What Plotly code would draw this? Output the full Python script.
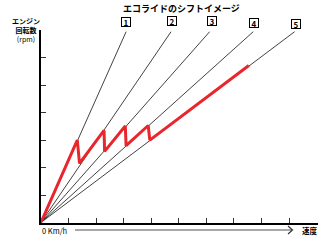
import plotly.graph_objects as go

# ---- data (speed units = x tick steps, rpm units = y tick steps) ----
gear_labels = ["1", "2", "3", "4", "5"]
gear_end_speed = [3.09, 4.72, 6.12, 7.70, 9.20]
gear_end_rpm = [6.94, 6.94, 6.94, 6.94, 6.94]

shift_speed = [0, 1.32, 1.40, 2.29, 2.31, 3.06, 3.09, 3.89, 3.95, 7.54]
shift_rpm = [0, 3.00, 2.15, 3.35, 2.59, 3.51, 2.80, 3.53, 3.00, 5.71]

x_ticks = [1, 2, 3, 4, 5, 6, 7, 8, 9, 10]
y_ticks = [1, 2, 3, 4, 5, 6, 7]

title_text = "エコライドのシフトイメージ"
y_title_lines = ["エンジン", "回転数", "(rpm)"]
x_origin_text = "0 Km/h"
x_title_text = "速度"

W, H = 330, 240
FONT = "Noto Sans CJK JP"


def px(x):
    return x / W


def py(y):
    return 1 - y / H


fig = go.Figure()

for sx, sy in zip(gear_end_speed, gear_end_rpm):
    fig.add_trace(go.Scatter(x=[0, sx], y=[0, sy], mode="lines",
                             line=dict(color="#111111", width=0.8),
                             hoverinfo="skip", showlegend=False))

fig.add_trace(go.Scatter(x=shift_speed, y=shift_rpm, mode="lines",
                         line=dict(color="#e8262b", width=3),
                         hoverinfo="skip", showlegend=False))

annotations = []
xshifts = [0, 1, 2, 1, 1]
yshifts = [10, 10.5, 10.5, 9, 8]
for lab, sx, sy, xs, ys in zip(gear_labels, gear_end_speed, gear_end_rpm, xshifts, yshifts):
    annotations.append(dict(x=sx, y=sy, xref="x", yref="y", text="<b>%s</b>" % lab,
                            showarrow=False, xshift=xs, yshift=ys,
                            xanchor="center", yanchor="middle",
                            font=dict(family=FONT, size=8, color="#000"),
                            bordercolor="#000", borderwidth=1, borderpad=0,
                            width=8, height=8, bgcolor="white", align="center"))


def ptext(text, x, y, size, xanchor="center"):
    return dict(x=px(x), y=py(y), xref="paper", yref="paper", text=text,
                showarrow=False, xanchor=xanchor, yanchor="middle", align="center",
                font=dict(family=FONT, size=size, color="#000"))


annotations.append(ptext("<b>%s</b>" % title_text, 181, 8.5, 9))
y_title = "<b>%s<br>%s</b><br>%s" % tuple(y_title_lines)
annotations.append(ptext(y_title, 26, 29.5, 7))
annotations.append(ptext(x_origin_text, 39.5, 230.5, 7.5, xanchor="left"))
annotations.append(ptext("<b>%s</b>" % x_title_text, 310, 230.5, 7.5))

shapes = [
    dict(type="line", xref="paper", yref="paper", x0=px(75), x1=px(292), y0=py(230), y1=py(230),
         line=dict(color="#8a8a8a", width=1.5)),
    dict(type="path", xref="paper", yref="paper",
         path="M %f %f L %f %f L %f %f" % (px(288), py(226), px(292.5), py(230), px(288), py(234)),
         line=dict(color="#333", width=1.2)),
]

fig.update_layout(
    width=W, height=H,
    margin=dict(l=0, r=0, t=0, b=0),
    paper_bgcolor="white", plot_bgcolor="white",
    showlegend=False,
    annotations=annotations,
    shapes=shapes,
    xaxis=dict(domain=[px(40.9), px(317.5)], range=[0, 10.03],
               tickvals=x_ticks, ticks="inside", ticklen=5, tickwidth=1, tickcolor="#333",
               showticklabels=False, showgrid=False, zeroline=False,
               showline=True, linecolor="#000", linewidth=1.5, fixedrange=True),
    yaxis=dict(domain=[1 - 222.6 / H, 1 - 29.5 / H], range=[0, 7.02],
               tickvals=y_ticks, ticks="inside", ticklen=5, tickwidth=1, tickcolor="#333",
               showticklabels=False, showgrid=False, zeroline=False,
               showline=True, linecolor="#000", linewidth=1.5, fixedrange=True),
)

fig.write_html("out.html")
